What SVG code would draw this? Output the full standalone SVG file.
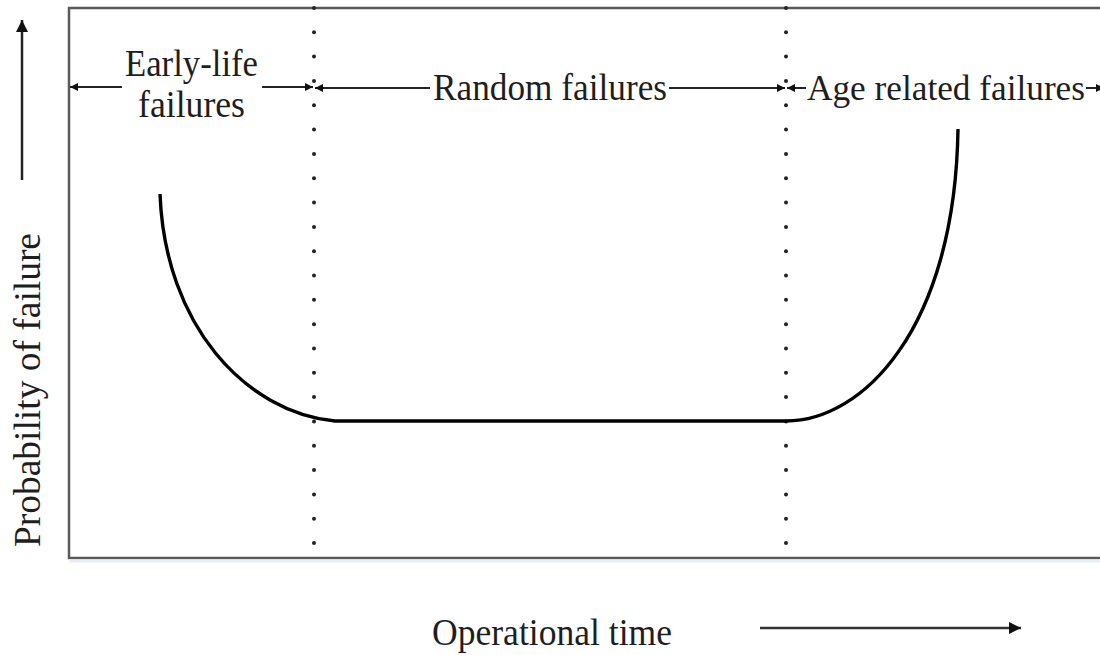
<svg xmlns="http://www.w3.org/2000/svg" width="1100" height="655" viewBox="0 0 1100 655">
<defs>
<style>
.lbl{font-family:"Liberation Serif","Times New Roman",Tinos,"DejaVu Serif","Noto Serif",serif;font-size:38px;fill:#1e1e1e}
.dim{stroke:#222;stroke-width:2;fill:none}
.dot{fill:#222}
.curve{stroke:#000;stroke-width:3.4;fill:none}
</style>
<marker id="ah" viewBox="0 0 10 10" refX="10" refY="5" markerWidth="9" markerHeight="8" markerUnits="userSpaceOnUse" orient="auto-start-reverse">
<path d="M0,0 L10,5 L0,10 Z" fill="#111"/>
</marker>
<marker id="ahBig" viewBox="0 0 10 10" refX="10" refY="5" markerWidth="12" markerHeight="13" markerUnits="userSpaceOnUse" orient="auto">
<path d="M0,0 L10,5 L0,10 Z" fill="#111"/>
</marker>
<g id="dots">
<circle cx="0" cy="8" r="2"/><circle cx="0" cy="32.3" r="2"/><circle cx="0" cy="56.6" r="2"/><circle cx="0" cy="81" r="2"/>
<circle cx="0" cy="105.3" r="2"/><circle cx="0" cy="129.6" r="2"/><circle cx="0" cy="153.9" r="2"/><circle cx="0" cy="178.2" r="2"/>
<circle cx="0" cy="202.6" r="2"/><circle cx="0" cy="226.9" r="2"/><circle cx="0" cy="251.2" r="2"/><circle cx="0" cy="275.5" r="2"/>
<circle cx="0" cy="299.8" r="2"/><circle cx="0" cy="324.2" r="2"/><circle cx="0" cy="348.5" r="2"/><circle cx="0" cy="372.8" r="2"/>
<circle cx="0" cy="397.1" r="2"/><circle cx="0" cy="421.4" r="2"/><circle cx="0" cy="445.8" r="2"/><circle cx="0" cy="470.1" r="2"/>
<circle cx="0" cy="494.4" r="2"/><circle cx="0" cy="518.7" r="2"/><circle cx="0" cy="543" r="2"/>
</g>
</defs>
<rect width="1100" height="655" fill="#fff"/>

<g id="frame">
<path d="M1102,8 L69,8 L69,558 L1102,558" fill="none" stroke="#5a5a5a" stroke-width="2.5"/>
<line x1="69" y1="561" x2="1100" y2="561" stroke="#e8eef6" stroke-width="3"/>
</g>

<g id="dividers" class="dot">
<use href="#dots" x="314"/>
<use href="#dots" x="786"/>
</g>

<g id="bathtub-curve">
<path class="curve" d="M160,194 C165,325 245,412 335,421 L786,421 C862,421 955,330 958,129"/>
</g>

<g id="connectors">
<line class="dim" x1="122" y1="87" x2="70" y2="87" marker-end="url(#ah)"/>
<line class="dim" x1="262" y1="87" x2="313" y2="87" marker-end="url(#ah)"/>
<line class="dim" x1="430" y1="88" x2="315" y2="88" marker-end="url(#ah)"/>
<line class="dim" x1="669" y1="88" x2="785" y2="88" marker-end="url(#ah)"/>
<line class="dim" x1="806" y1="88" x2="787" y2="88" marker-end="url(#ah)"/>
<line class="dim" x1="1086" y1="88" x2="1104" y2="88" marker-end="url(#ah)"/>
<line x1="22" y1="180" x2="22" y2="20" stroke="#222" stroke-width="2.5" marker-end="url(#ahBig)"/>
<line x1="760" y1="628" x2="1021" y2="628" stroke="#333" stroke-width="2.5" marker-end="url(#ahBig)"/>
</g>

<g id="label-early">
<text class="lbl" x="191.5" y="76" text-anchor="middle" textLength="133" lengthAdjust="spacingAndGlyphs">Early-life</text>
<text class="lbl" x="191.5" y="117" text-anchor="middle" textLength="107" lengthAdjust="spacingAndGlyphs">failures</text>
</g>
<g id="label-random">
<text class="lbl" x="550" y="100" text-anchor="middle" textLength="234" lengthAdjust="spacingAndGlyphs">Random failures</text>
</g>
<g id="label-age">
<text class="lbl" x="807" y="100" style="font-size:35.5px" textLength="278" lengthAdjust="spacingAndGlyphs">Age related failures</text>
</g>
<g id="label-x">
<text class="lbl" x="552" y="645" text-anchor="middle" textLength="240" lengthAdjust="spacingAndGlyphs">Operational time</text>
</g>
<g id="label-y">
<text class="lbl" transform="translate(40,390) rotate(-90)" x="0" y="0" text-anchor="middle" textLength="314" lengthAdjust="spacingAndGlyphs">Probability of failure</text>
</g>
</svg>
